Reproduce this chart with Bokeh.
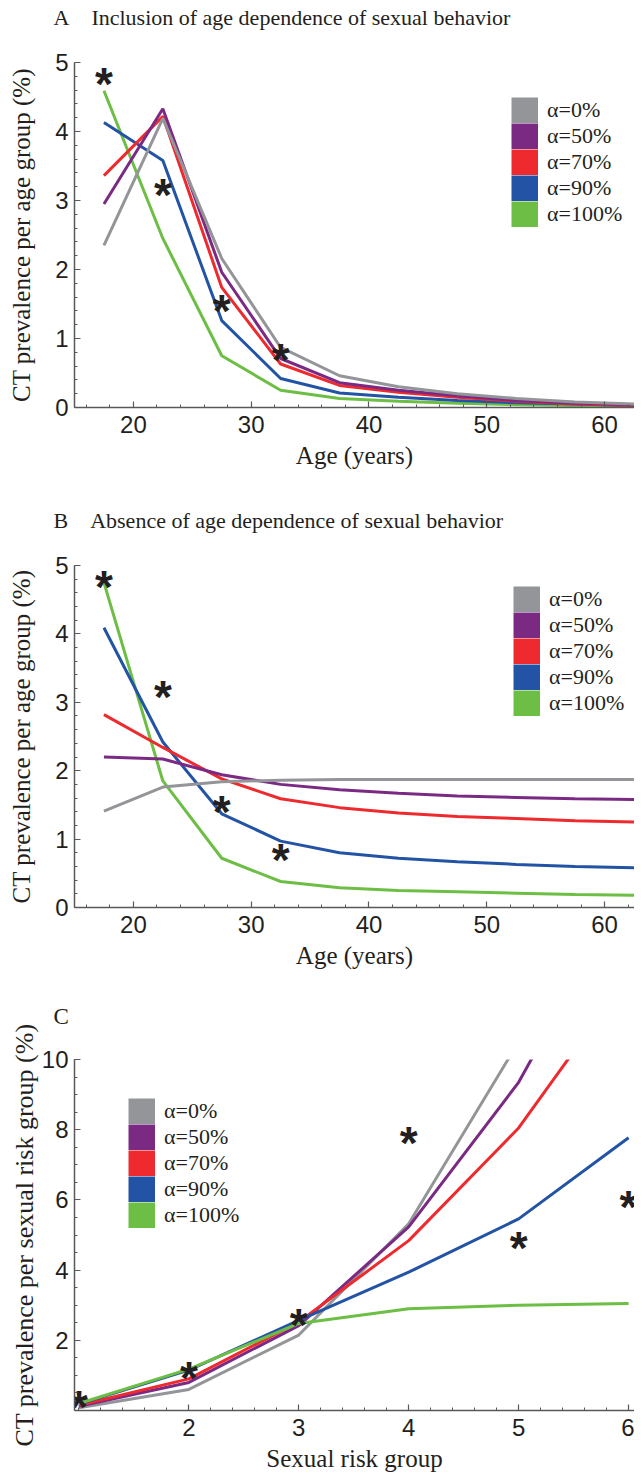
from bokeh.plotting import figure
from bokeh.models import FixedTicker, Legend, LegendItem, Range1d, Title
from bokeh.layouts import column
from bokeh.embed import file_html
from bokeh.resources import INLINE
from bokeh.core.properties import value

# ---------------- data ----------------
age_mid = [17.5, 22.5, 27.5, 32.5, 37.5, 42.5, 47.5, 52.5, 57.5, 62.5]
alpha_labels = ["α=0%", "α=50%", "α=70%", "α=90%", "α=100%"]
colors = ["#939598", "#7b2a84", "#ee2a2e", "#2353a4", "#6dbe45"]

# Panel A: inclusion of age dependence
a_alpha0 = [2.35, 4.19, 2.16, 0.87, 0.46, 0.30, 0.20, 0.13, 0.08, 0.05]
a_alpha50 = [2.95, 4.33, 1.96, 0.71, 0.36, 0.25, 0.17, 0.10, 0.06, 0.04]
a_alpha70 = [3.36, 4.22, 1.74, 0.63, 0.32, 0.22, 0.15, 0.09, 0.05, 0.03]
a_alpha90 = [4.13, 3.58, 1.26, 0.42, 0.21, 0.15, 0.10, 0.07, 0.05, 0.03]
a_alpha100 = [4.59, 2.45, 0.75, 0.25, 0.13, 0.09, 0.06, 0.04, 0.03, 0.02]

# Panel B: absence of age dependence
b_alpha0 = [1.41, 1.76, 1.84, 1.86, 1.87, 1.87, 1.87, 1.87, 1.87, 1.87]
b_alpha50 = [2.20, 2.17, 1.94, 1.80, 1.72, 1.67, 1.63, 1.61, 1.59, 1.58]
b_alpha70 = [2.82, 2.34, 1.88, 1.59, 1.46, 1.38, 1.33, 1.30, 1.27, 1.25]
b_alpha90 = [4.09, 2.42, 1.37, 0.97, 0.80, 0.72, 0.67, 0.63, 0.60, 0.58]
b_alpha100 = [4.75, 1.85, 0.72, 0.38, 0.29, 0.25, 0.23, 0.21, 0.19, 0.18]

# observed prevalence (asterisks) per age group
obs_age = [17.5, 22.5, 27.5, 32.5]
obs_age_prev = [4.78, 3.17, 1.48, 0.78]

# Panel C: per sexual risk group
risk_group = [1, 2, 3, 4, 5, 6]
c_alpha0 = [0.08, 0.60, 2.15, 5.32, 10.5, 16.0]
c_alpha50 = [0.12, 0.80, 2.42, 5.23, 9.35, 15.0]
c_alpha70 = [0.15, 0.90, 2.52, 4.84, 8.05, 12.4]
c_alpha90 = [0.18, 1.15, 2.57, 3.94, 5.46, 7.77]
c_alpha100 = [0.20, 1.18, 2.48, 2.90, 3.00, 3.05]
obs_risk_prev = [0.28, 1.10, 2.60, 7.80, 4.80, 5.97]

age_ticks = [20, 30, 40, 50, 60]
age_minor = [16, 18, 22, 24, 26, 28, 32, 34, 36, 38, 42, 44, 46, 48, 52, 54, 56, 58, 62]
prev_ticks = [0, 1, 2, 3, 4, 5]
prev_minor = [round(0.2 * i, 1) for i in range(26)]
risk_ticks = [2, 3, 4, 5, 6]
risk_minor = [round(1 + 0.2 * i, 1) for i in range(26)]
c_ticks = [2, 4, 6, 8, 10]
c_minor = [round(0.5 * i, 1) for i in range(21)]

TXT = "#231f20"
AX = "#58595b"
NAN = float("nan")


def make_fig(height, xr, yr, btop, bbottom, bleft, xt, xm, yt, ym, xlabel, ylabel,
             ylab_standoff, ylab_size="25px"):
    p = figure(width=634, height=height, x_range=Range1d(*xr), y_range=Range1d(*yr),
               output_backend="svg", toolbar_location=None,
               min_border_left=bleft, min_border_right=0,
               min_border_top=btop, min_border_bottom=bbottom)
    p.grid.visible = False
    p.outline_line_color = None
    p.xaxis.ticker = FixedTicker(ticks=xt, minor_ticks=xm)
    p.yaxis.ticker = FixedTicker(ticks=yt, minor_ticks=ym)
    for ax in (p.xaxis[0], p.yaxis[0]):
        ax.axis_line_color = AX
        ax.axis_line_width = 1.5
        ax.major_tick_in = 6
        ax.major_tick_out = 0
        ax.minor_tick_in = 3
        ax.minor_tick_out = 0
        ax.major_tick_line_color = AX
        ax.minor_tick_line_color = AX
        ax.major_tick_line_width = 1.2
        ax.minor_tick_line_width = 1.0
        ax.major_label_text_font = "Liberation Sans"
        ax.major_label_text_font_size = "24px"
        ax.major_label_text_color = TXT
        ax.axis_label_text_font = "Liberation Serif"
        ax.axis_label_text_font_size = "25px"
        ax.axis_label_text_font_style = "normal"
        ax.axis_label_text_color = TXT
    p.yaxis.axis_label_text_font_size = ylab_size
    p.xaxis.axis_label = xlabel
    p.yaxis.axis_label = ylabel
    p.xaxis.major_label_standoff = 8
    p.xaxis.axis_label_standoff = 6
    p.yaxis.major_label_standoff = 6
    p.yaxis.axis_label_standoff = ylab_standoff
    return p


def add_title(p, text, offset, gap, size="22px"):
    # panel title (outermost) plus an empty spacer panel between it and the frame
    p.title.text = text
    p.title.text_font = "Liberation Serif"
    p.title.text_font_size = size
    p.title.text_font_style = "normal"
    p.title.text_color = TXT
    p.title.align = "left"
    p.title.offset = offset
    p.title.standoff = 0
    p.add_layout(Title(text=" ", text_font_size="2px", standoff=gap), "above")


def add_legend(p, loc):
    items = []
    for lab, col in zip(alpha_labels, colors):
        r = p.line(x=[NAN], y=[NAN], line_color=col, line_width=26, line_cap="butt")
        items.append(LegendItem(label=lab, renderers=[r]))
    leg = Legend(items=items, location=loc, glyph_width=27, glyph_height=26, spacing=0,
                 padding=0, margin=0, label_standoff=9, label_height=26,
                 label_text_font="Liberation Serif", label_text_font_size="22px",
                 label_text_color=TXT, border_line_color=None, background_fill_alpha=0)
    p.add_layout(leg)


def add_lines(p, x, series):
    for ys, col in series:
        p.line(x, ys, line_color=col, line_width=3)


def add_stars(p, x, y):
    p.text(x=x, y=y, text=["*"] * len(x), text_font=value("Liberation Sans"),
           text_font_style="bold", text_font_size="46px", text_align="center",
           text_baseline="middle", y_offset=6, text_color=TXT)


# ---------------- panel A ----------------
pa = make_fig(490, (15, 62.54), (0, 5), 62, 83, 73, age_ticks, age_minor, prev_ticks, prev_minor,
              "Age (years)", "CT prevalence per age group (%)", 17)
add_title(pa, "A\u00a0\u00a0\u00a0\u00a0Inclusion of age dependence of sexual behavior", -21, 29)
add_lines(pa, age_mid, [(a_alpha100, colors[4]), (a_alpha90, colors[3]), (a_alpha70, colors[2]),
                        (a_alpha50, colors[1]), (a_alpha0, colors[0])])
add_stars(pa, obs_age, obs_age_prev)
add_legend(pa, (437, 180))

# ---------------- panel B ----------------
pb = make_fig(495, (15, 62.54), (0, 5), 75, 78, 73, age_ticks, age_minor, prev_ticks, prev_minor,
              "Age (years)", "CT prevalence per age group (%)", 17)
add_title(pb, "B\u00a0\u00a0\u00a0\u00a0Absence of age dependence of sexual behavior", -21, 29)
add_lines(pb, age_mid, [(b_alpha100, colors[4]), (b_alpha90, colors[3]), (b_alpha70, colors[2]),
                        (b_alpha50, colors[1]), (b_alpha0, colors[0])])
add_stars(pb, obs_age, obs_age_prev)
add_legend(pb, (439, 191))

# ---------------- panel C ----------------
pc = make_fig(489, (0.96, 6.054), (0, 10), 74, 60, 74, risk_ticks, risk_minor, c_ticks, c_minor,
              "Sexual risk group", "CT prevalence per sexual risk group (%)", 0, "26px")
add_title(pc, "C", -21, 27, "23px")
add_lines(pc, risk_group, [(c_alpha0, colors[0]), (c_alpha50, colors[1]), (c_alpha70, colors[2]),
                           (c_alpha90, colors[3]), (c_alpha100, colors[4])])
add_stars(pc, risk_group, obs_risk_prev)
add_legend(pc, (54, 182))

layout = column(pa, pb, pc, spacing=0)
open("out.html", "w").write(file_html(layout, INLINE))
